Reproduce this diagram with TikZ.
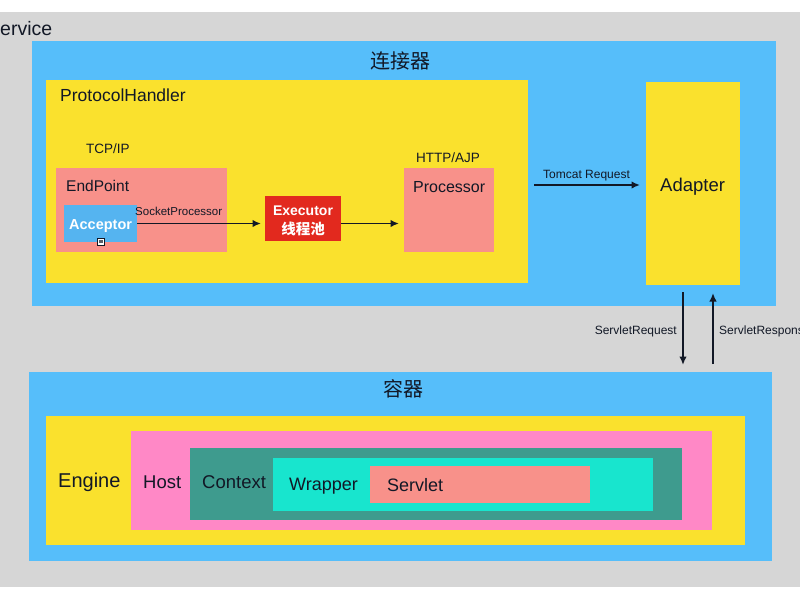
\documentclass[tikz,border=0pt]{standalone}
\usepackage{fontspec}
\setmainfont{Liberation Sans}
\newfontfamily\cjk{Noto Sans CJK SC}
\usetikzlibrary{arrows.meta}
\definecolor{svcgray}{HTML}{D6D6D6}
\definecolor{connblue}{HTML}{56BEFA}
\definecolor{handleryellow}{HTML}{FAE12D}
\definecolor{salmon}{HTML}{F8918A}
\definecolor{acceptblue}{HTML}{55B4F0}
\definecolor{execred}{HTML}{E2291E}
\definecolor{hostpink}{HTML}{FF88C6}
\definecolor{ctxteal}{HTML}{3E9B8E}
\definecolor{wrapcyan}{HTML}{18E5CE}
\definecolor{txtdark}{HTML}{121826}
\begin{document}
\begin{tikzpicture}[x=1pt,y=-1pt,>={Latex[length=8.5pt,width=7.5pt]},
    box/.style 2 args={draw=none,inner sep=0pt,outer sep=0pt,minimum width=#1pt,minimum height=#2pt},
    lbl/.style={font=\fontsize{#1}{#1}\selectfont,inner sep=0pt,text=txtdark},
    flow/.style={->,line width=1.9pt,draw=txtdark}]
  \useasboundingbox[fill=white] (0,0) rectangle (800,600);
  % Service background
  \node[box={800}{575},fill=svcgray] (service) at (400,299.5) {};
  \node[lbl=19.5,anchor=base west] (servicelbl) at (-13,35) {Service};
  % Connector part
  \node[box={744}{265},fill=connblue] (connector) at (404,173.5) {};
  \node[lbl=20] (connectorlbl) at (400,61) {\cjk 连接器};
  \node[box={482}{203},fill=handleryellow] (handler) at (287,181.5) {};
  \node[lbl=17.5,anchor=base west] (handlerlbl) at (60,101) {ProtocolHandler};
  \node[lbl=13.5,anchor=base west] (tcplbl) at (86,153) {TCP/IP};
  \node[box={171}{84},fill=salmon] (endpoint) at (141.5,210) {};
  \node[lbl=15.5,anchor=base west] (endpointlbl) at (66,191) {EndPoint};
  \node[box={73}{37},fill=acceptblue] (acceptor) at (100.5,223.5) {};
  \node[lbl=14.5,anchor=base west,text=white,font=\fontsize{14.5}{14.5}\selectfont\bfseries] (acceptorlbl) at (69,229) {Acceptor};
  \node[draw=txtdark,fill=white,line width=0.8pt,minimum size=7pt,inner sep=0pt] (icon) at (101,241.5) {};
  \fill[txtdark!70] (icon.center) ++(-1.8,-1.8) rectangle ++(3.6,3.6);
  \node[lbl=11.5,anchor=base west] (socketlbl) at (135,215) {SocketProcessor};
  \node[box={76}{45},fill=execred] (executor) at (303,218.5) {};
  \node[lbl=14,anchor=base,text=white,font=\fontsize{14}{14}\selectfont\bfseries] (executorlbl) at (303,215) {Executor};
  \node[lbl=14.5,text=white] (poollbl) at (303,228.5) {\cjk\bfseries 线程池};
  \node[lbl=13.5,anchor=base west] (httplbl) at (416,162) {HTTP/AJP};
  \node[box={90}{84},fill=salmon] (processor) at (449,210) {};
  \node[lbl=16,anchor=base west] (processorlbl) at (413,192) {Processor};
  \node[box={94}{203},fill=handleryellow] (adapter) at (693,183.5) {};
  \node[lbl=18.5,anchor=base west] (adapterlbl) at (660,191) {Adapter};
  \coordinate (requesty) at (0,185);
  \node[lbl=12,anchor=base west] (tomcatlbl) at (543,178) {Tomcat Request};
  % Container part
  \node[box={743}{189},fill=connblue] (container) at (400.5,466.5) {};
  \node[lbl=20] (containerlbl) at (403,389) {\cjk 容器};
  \node[box={699}{129},fill=handleryellow] (engine) at (395.5,480.5) {};
  \node[lbl=20,anchor=base west] (enginelbl) at (58,487) {Engine};
  \node[box={581}{99},fill=hostpink] (host) at (421.5,480.5) {};
  \node[lbl=18.5,anchor=base west] (hostlbl) at (143,488) {Host};
  \node[box={492}{72},fill=ctxteal] (context) at (436,484) {};
  \node[lbl=18.5,anchor=base west] (contextlbl) at (202,488) {Context};
  \node[box={380}{53},fill=wrapcyan] (wrapper) at (463,484.5) {};
  \node[lbl=18,anchor=base west] (wrapperlbl) at (289,490) {Wrapper};
  \node[box={220}{37},fill=salmon] (servlet) at (480,484.5) {};
  \node[lbl=18,anchor=base west] (servletlbl) at (387,491) {Servlet};
  % Arrows
  \draw[flow,shorten >=4pt] (acceptor.east) -- (acceptor.east -| executor.west);
  \draw[flow,shorten >=5pt] (executor.east |- acceptor.east) -- (processor.west |- acceptor.east);
  \draw[flow,shorten <=6pt,shorten >=6pt] (handler.east |- requesty) -- (adapter.west |- requesty);
  \draw[flow,shorten <=7pt,shorten >=7pt] ([xshift=-10pt]adapter.south) -- ([xshift=-10pt]adapter.south |- container.north);
  \draw[flow,shorten <=8pt,shorten >=8pt] ([xshift=20pt]adapter.south |- container.north) -- ([xshift=20pt]adapter.south);
  \node[lbl=12,anchor=base east] (sreqlbl) at (677,334) {ServletRequest};
  \node[lbl=12,anchor=base west] (sresplbl) at (719,334) {ServletResponse};
\end{tikzpicture}
\end{document}
